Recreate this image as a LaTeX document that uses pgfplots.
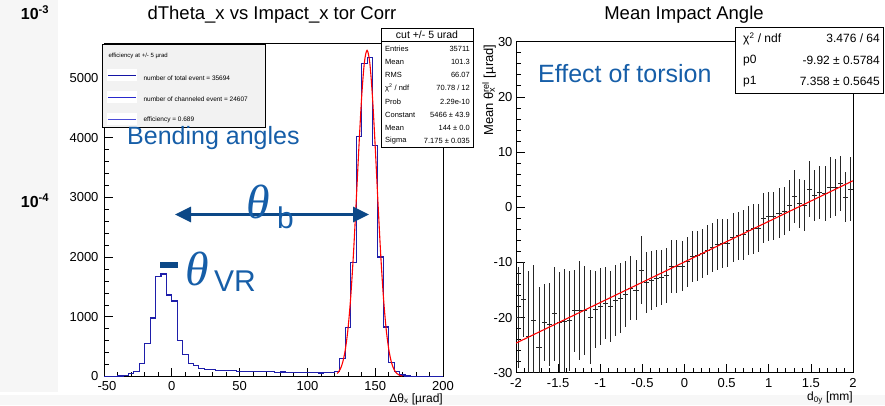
\documentclass[border=0pt]{standalone}
\usepackage{fontspec}
\setmainfont{Liberation Sans}
\newfontfamily\thfont{Liberation Serif}
\usepackage{pgfplots}
\pgfplotsset{compat=1.18}
\usetikzlibrary{arrows.meta}
\definecolor{histblue}{RGB}{30,30,170}
\definecolor{annblue}{RGB}{22,94,168}
\definecolor{arrowblue}{RGB}{12,72,135}
\definecolor{legfill}{RGB}{242,242,242}

\pgfplotstableread{
x y
-50 2
-48 3
-44 5
-40 8
-36 15
-32 45
-28 85
-24 222
-20 558
-16 980
-12 1680
-8 1718
-4 1365
0 1265
4 600
8 366
12 222
16 180
20 135
24 120
28 112
32 104
36 100
40 95
44 98
48 90
52 88
56 84
60 82
64 85
68 78
72 80
76 72
80 75
84 70
88 72
92 64
96 68
100 62
104 65
108 58
112 62
116 68
120 90
124 295
128 825
132 1910
136 4027
140 5247
144 5342
148 3876
152 2003
156 829
160 240
164 82
168 25
172 8
176 3
180 1
184 0
200 0
}\histdata

\pgfplotstableread{
x y
122 50
124 112
126 235
128 455
130 814
132 1350
134 2069
136 2936
138 3853
140 4680
142 5258
144 5466
146 5258
148 4680
150 3853
152 2936
154 2069
156 1350
158 814
160 455
162 235
164 112
166 50
168 20
170 8
}\gausdata

\pgfplotstableread{
x y e
-1.970 -20.0 9.2
-1.909 -16.8 6.8
-1.848 -23.5 12.0
-1.788 -20.5 10.0
-1.727 -25.4 11.0
-1.667 -20.9 7.0
-1.606 -21.3 7.5
-1.545 -19.3 8.5
-1.485 -20.8 9.0
-1.424 -20.7 9.5
-1.364 -20.6 9.0
-1.303 -18.8 7.5
-1.242 -18.7 9.0
-1.182 -18.7 8.0
-1.121 -19.9 8.5
-1.061 -18.6 7.0
-1.000 -18.0 7.0
-0.939 -17.4 6.5
-0.879 -18.0 6.5
-0.818 -16.9 6.5
-0.758 -16.5 6.3
-0.697 -15.8 6.0
-0.636 -14.7 5.8
-0.576 -15.0 5.5
-0.515 -11.4 6.2
-0.455 -13.6 5.5
-0.394 -13.3 5.3
-0.333 -12.9 5.2
-0.273 -12.7 5.0
-0.212 -12.4 5.0
-0.152 -10.8 4.8
-0.091 -10.8 4.8
-0.030 -10.7 4.5
0.030 -9.9 4.5
0.091 -9.0 4.6
0.152 -8.8 4.5
0.212 -8.4 4.4
0.273 -7.8 4.5
0.333 -7.3 4.4
0.394 -6.8 4.6
0.455 -6.6 4.5
0.515 -6.5 4.4
0.576 -5.5 4.5
0.636 -5.2 4.3
0.697 -5.0 4.5
0.758 -4.2 4.4
0.818 -3.9 4.5
0.879 -3.8 4.3
0.939 -2.0 4.5
1.000 -1.7 4.4
1.061 -1.6 4.3
1.121 -1.1 4.5
1.182 -0.7 4.4
1.242 0.3 4.6
1.303 1.9 4.8
1.364 0.7 4.5
1.424 0.3 4.6
1.485 3.3 5.0
1.545 2.1 4.6
1.606 2.6 4.8
1.667 2.5 5.0
1.727 3.6 5.5
1.788 3.6 5.2
1.848 4.3 5.0
1.909 1.8 4.5
1.970 3.3 5.8
}\profdata

\pgfplotsset{
  rootaxis/.style={
    scale only axis, anchor=south west,
    tick pos=left, tick align=inside,
    major tick length=9pt, minor tick length=5pt,
    axis line style={line width=0.8pt},
    every tick/.style={black, line width=0.7pt},
    ticklabel style={font=\fontsize{13}{13}\selectfont},
    /pgf/number format/assume math mode=true,
    /pgf/number format/1000 sep={},
    scaled ticks=false,
  }
}

\begin{document}
\begin{tikzpicture}
\useasboundingbox (0pt,0pt) rectangle (885pt,-405pt);
\fill[gray!7] (0pt,0pt) rectangle (58pt,-392pt);
\fill[gray!6] (0pt,-395pt) rectangle (885pt,-405pt);
\node[font=\fontsize{16}{16}\selectfont\bfseries] at (35pt,-13pt) {10\textsuperscript{-3}};
\node[font=\fontsize{16}{16}\selectfont\bfseries] at (35pt,-201pt) {10\textsuperscript{-4}};

% ---------------- left panel ----------------
\begin{axis}[rootaxis,
  at={(104pt,-376.5pt)}, width=339pt, height=333pt,
  xmin=-50, xmax=200, ymin=0, ymax=5580,
  xtick={-50,0,50,100,150,200}, minor x tick num=4,
  xticklabels={\hspace*{6pt}-50,0,50,100,150,200},
  ytick={0,1000,2000,3000,4000,5000}, minor y tick num=4,
  xticklabel style={yshift=-1.5pt},
  yticklabel style={xshift=-2pt},
]
\addplot[const plot, histblue, line width=1.1pt] table[x=x,y=y] {\histdata};
\addplot[red, line width=1.1pt, smooth] table[x=x,y=y] {\gausdata};
\end{axis}

% ---------------- right panel ----------------
\begin{axis}[rootaxis,
  at={(516pt,-372.7pt)}, width=337pt, height=331pt,
  xmin=-2, xmax=2, ymin=-30, ymax=30,
  xtick={-2,-1.5,-1,-0.5,0,0.5,1,1.5,2}, minor x tick num=4,
  ytick={-30,-20,-10,0,10,20,30}, minor y tick num=4,
  xticklabel style={yshift=-2pt, /pgf/number format/fixed},
]
\addplot[draw=none, mark=none,
  error bars/.cd, y dir=both, y explicit, x dir=both, x fixed=0.0303,
  error mark=none, error bar style={draw=black!85, line width=0.9pt}]
  table[x=x, y=y, y error=e] {\profdata};
\addplot[red, line width=1.1pt] coordinates {(-2,-24.636) (2,4.796)};
\end{axis}

% titles and axis labels
\node[font=\fontsize{18.5}{18.5}\selectfont] at (272pt,-15pt) {dTheta\_x vs Impact\_x tor Corr};
\node[font=\fontsize{18.5}{18.5}\selectfont] at (684pt,-15pt) {Mean Impact Angle};
\node[font=\fontsize{12}{12}\selectfont, anchor=east, inner sep=1pt] at (444pt,-399pt) {Δθ\textsubscript{x} [µrad]};
\node[font=\fontsize{12}{12}\selectfont, anchor=east, inner sep=1pt] at (854pt,-398pt) {d\textsubscript{0y} [mm]};
\node[font=\fontsize{13}{13}\selectfont, rotate=90, anchor=east] at (489pt,-41pt) {Mean θ\rlap{\textsubscript{x}}\textsuperscript{rel} [µrad]};

% legend box (left)
\draw[line width=0.8pt, fill=legfill] (102pt,-44pt) rectangle (265pt,-127pt);
\node[font=\fontsize{6}{6}\selectfont, anchor=west] at (105pt,-56pt) {efficiency at +/- 5 µrad};
\fill[white] (107pt,-69pt) rectangle (137pt,-81pt);
\fill[white] (107pt,-91pt) rectangle (137pt,-103pt);
\fill[white] (107pt,-113pt) rectangle (137pt,-125pt);
\draw[line width=0.9pt, color={rgb,255:red,20;green,20;blue,165}] (108pt,-75pt) -- (136pt,-75pt);
\draw[line width=0.9pt, color={rgb,255:red,40;green,40;blue,205}] (108pt,-97pt) -- (136pt,-97pt);
\draw[line width=0.9pt, color={rgb,255:red,75;green,75;blue,215}] (108pt,-119pt) -- (136pt,-119pt);
\node[font=\fontsize{6.5}{6.5}\selectfont, anchor=west] at (140pt,-78pt) {number of total event = 35694};
\node[font=\fontsize{6.5}{6.5}\selectfont, anchor=west] at (140pt,-99pt) {number of channeled event = 24607};
\node[font=\fontsize{6.5}{6.5}\selectfont, anchor=west] at (140pt,-120pt) {efficiency = 0.689};

% stats box (left)
\draw[line width=0.8pt, fill=white] (381pt,-28pt) rectangle (473pt,-147pt);
\draw[line width=0.8pt] (381pt,-41.5pt) -- (473pt,-41.5pt);
\node[font=\fontsize{10.5}{10.5}\selectfont] at (427pt,-34.5pt) {cut +/- 5 urad};
\begin{scope}[every node/.style={font=\fontsize{7.5}{7.5}\selectfont, inner sep=0pt}]
\node[anchor=west] at (385pt,-49.3pt) {Entries};   \node[anchor=east] at (470pt,-49.3pt) {35711};
\node[anchor=west] at (385pt,-62.3pt) {Mean};      \node[anchor=east] at (470pt,-62.3pt) {101.3};
\node[anchor=west] at (385pt,-75.3pt) {RMS};       \node[anchor=east] at (470pt,-75.3pt) {66.07};
\node[anchor=west] at (385pt,-88.3pt) {χ\textsuperscript{2} / ndf}; \node[anchor=east] at (470pt,-88.3pt) {70.78 / 12};
\node[anchor=west] at (385pt,-101.5pt) {Prob};     \node[anchor=east] at (470pt,-101.5pt) {2.29e-10};
\node[anchor=west] at (385pt,-114.6pt) {Constant}; \node[anchor=east] at (470pt,-114.6pt) {5466 ± 43.9};
\node[anchor=west] at (385pt,-127.6pt) {Mean};     \node[anchor=east] at (470pt,-127.6pt) {144 ± 0.0};
\node[anchor=west] at (385pt,-140.7pt) {Sigma};    \node[anchor=east] at (470pt,-140.7pt) {7.175 ± 0.035};
\end{scope}

% stats box (right)
\draw[line width=0.8pt, fill=white] (735.5pt,-27pt) rectangle (883pt,-93pt);
\begin{scope}[every node/.style={font=\fontsize{12}{12}\selectfont, inner sep=0pt}]
\node[anchor=west] at (743pt,-38.7pt) {χ\textsuperscript{2} / ndf}; \node[anchor=east] at (880pt,-38.7pt) {3.476 / 64};
\node[anchor=west] at (743pt,-60.7pt) {p0}; \node[anchor=east] at (880pt,-60.7pt) {-9.92 ± 0.5784};
\node[anchor=west] at (743pt,-81.7pt) {p1}; \node[anchor=east] at (880pt,-81.7pt) {7.358 ± 0.5645};
\end{scope}

% annotations
\node[font=\fontsize{25}{25}\selectfont, text=annblue, anchor=west, inner sep=0pt] at (127pt,-138pt) {Bending angles};
\node[font=\fontsize{25}{25}\selectfont, text=annblue, anchor=west, inner sep=0pt] at (538pt,-74pt) {Effect of torsion};
\draw[arrowblue, line width=3pt, {Triangle[length=16pt,width=15pt]}-{Triangle[length=16pt,width=15pt]}] (175pt,-214.5pt) -- (369pt,-214.5pt);
\node[text=annblue, anchor=base west, inner sep=0pt, font=\thfont\itshape\fontsize{48}{48}\selectfont] at (246pt,-218pt) {θ};
\node[text=annblue, anchor=base west, inner sep=0pt, font=\fontsize{30}{30}\selectfont] at (277pt,-228pt) {b};
\fill[arrowblue] (160pt,-262pt) rectangle (178pt,-268pt);
\node[text=annblue, anchor=base west, inner sep=0pt, font=\thfont\itshape\fontsize{48}{48}\selectfont] at (185pt,-285pt) {θ};
\node[text=annblue, anchor=base west, inner sep=0pt, font=\fontsize{30}{30}\selectfont] at (214pt,-291pt) {VR};
\end{tikzpicture}
\end{document}
